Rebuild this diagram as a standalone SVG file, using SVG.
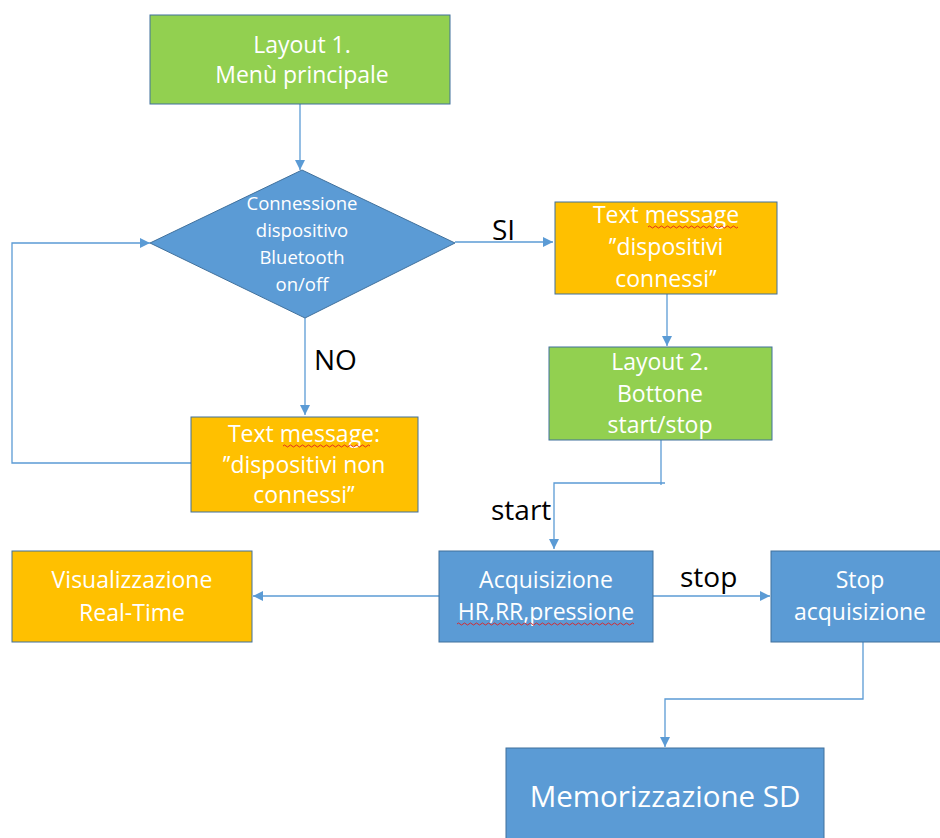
<svg xmlns="http://www.w3.org/2000/svg" width="940" height="838" viewBox="0 0 940 838">
  <style>
    .box { stroke: #41719C; stroke-width: 1; }
    .green { fill: #92D050; }
    .orange { fill: #FFC000; }
    .blue { fill: #5B9BD5; }
    .t { font-family: "Open Sans", "Liberation Sans", sans-serif; fill: #FFFFFF; text-anchor: middle; font-size: 23px; }
    .td { font-size: 18.5px; }
    .lbl { font-family: "Open Sans", "Liberation Sans", sans-serif; fill: #000000; font-size: 28px; }
    .conn { fill: none; stroke: #5B9BD5; stroke-width: 1.3; }
    .arr { marker-end: url(#head); }
    .squig { fill: none; stroke: #E02020; stroke-width: 0.9; }
  </style>
  <defs>
    <marker id="head" viewBox="0 0 10 10" refX="10" refY="5" markerWidth="10" markerHeight="10" markerUnits="userSpaceOnUse" orient="auto">
      <path d="M0,0 L10,5 L0,10 Z" fill="#5B9BD5"/>
    </marker>
  </defs>
  <rect width="940" height="838" fill="#FFFFFF"/>

  <g id="connectors">
    <path class="conn arr" d="M300,104 V170"/>
    <path class="conn arr" d="M455,242 H553"/>
    <path class="conn arr" d="M667,294 V346"/>
    <path class="conn arr" d="M305,318 V415"/>
    <path class="conn arr" d="M191,463 H12 V243 H150"/>
    <path class="conn" d="M661,440 V485"/>
    <path class="conn arr" d="M665,483 H554 V549"/>
    <path class="conn arr" d="M439,596 H253"/>
    <path class="conn arr" d="M653,596 H770"/>
    <path class="conn arr" d="M863,642 V699 H665 V747"/>
  </g>

  <g id="labels">
    <text class="lbl" x="492" y="240">SI</text>
    <text class="lbl" x="314" y="370">NO</text>
    <text class="lbl" x="491" y="520">start</text>
    <text class="lbl" x="680" y="587">stop</text>
  </g>

  <g id="layout1">
    <rect class="box green" x="150" y="15" width="300" height="89"/>
    <text class="t" x="302" y="53">Layout 1.</text>
    <text class="t" x="302" y="83">Menù principale</text>
  </g>

  <g id="decision">
    <path class="box blue" d="M302,170 L455,243 L305,318 L150,243 Z"/>
    <text class="t td" x="302" y="210">Connessione</text>
    <text class="t td" x="302" y="237">dispositivo</text>
    <text class="t td" x="302" y="264">Bluetooth</text>
    <text class="t td" x="302" y="291">on/off</text>
  </g>

  <g id="msg-connected">
    <rect class="box orange" x="555" y="202" width="222" height="92"/>
    <text class="t" x="666" y="223">Text message</text>
    <text class="t" x="666" y="255">’’dispositivi</text>
    <text class="t" x="666" y="287">connessi’’</text>
    <path class="squig" d="M648,227 q1.5,-2 3,0 t3,0 t3,0 t3,0 t3,0 t3,0 t3,0 t3,0 t3,0 t3,0 t3,0 t3,0 t3,0 t3,0 t3,0 t3,0 t3,0 t3,0 t3,0 t3,0 t3,0 t3,0 t3,0 t3,0 t3,0 t3,0 t3,0 t3,0 t3,0 t3,0"/>
  </g>

  <g id="layout2">
    <rect class="box green" x="549" y="347" width="223" height="93"/>
    <text class="t" x="660" y="370">Layout 2.</text>
    <text class="t" x="660" y="402">Bottone</text>
    <text class="t" x="660" y="433">start/stop</text>
  </g>

  <g id="msg-not-connected">
    <rect class="box orange" x="191" y="417" width="227" height="95"/>
    <text class="t" x="304" y="442">Text message:</text>
    <text class="t" x="304" y="473">’’dispositivi non</text>
    <text class="t" x="304" y="503">connessi’’</text>
    <path class="squig" d="M283,446 q1.5,-2 3,0 t3,0 t3,0 t3,0 t3,0 t3,0 t3,0 t3,0 t3,0 t3,0 t3,0 t3,0 t3,0 t3,0 t3,0 t3,0 t3,0 t3,0 t3,0 t3,0 t3,0 t3,0 t3,0 t3,0 t3,0 t3,0 t3,0 t3,0 t3,0"/>
  </g>

  <g id="visualizzazione">
    <rect class="box orange" x="12" y="551" width="240" height="91"/>
    <text class="t" x="132" y="588">Visualizzazione</text>
    <text class="t" x="132" y="621">Real-Time</text>
  </g>

  <g id="acquisizione">
    <rect class="box blue" x="439" y="551" width="214" height="91"/>
    <text class="t" x="546" y="588">Acquisizione</text>
    <text class="t" x="546" y="620">HR,RR,pressione</text>
    <path class="squig" d="M457,624 q1.5,-2 3,0 t3,0 t3,0 t3,0 t3,0 t3,0 t3,0 t3,0 t3,0 t3,0 t3,0 t3,0 t3,0 t3,0 t3,0 t3,0 t3,0 t3,0 t3,0 t3,0 t3,0 t3,0 t3,0 t3,0 t3,0 t3,0 t3,0 t3,0 t3,0 t3,0 t3,0 t3,0 t3,0 t3,0 t3,0 t3,0 t3,0 t3,0 t3,0 t3,0 t3,0 t3,0 t3,0 t3,0 t3,0 t3,0 t3,0 t3,0 t3,0 t3,0 t3,0 t3,0 t3,0 t3,0 t3,0 t3,0 t3,0 t3,0 t3,0"/>
  </g>

  <g id="stop-acquisizione">
    <rect class="box blue" x="771" y="551" width="180" height="91"/>
    <text class="t" x="860" y="588">Stop</text>
    <text class="t" x="860" y="620">acquisizione</text>
  </g>

  <g id="memorizzazione">
    <rect class="box blue" x="506" y="748" width="318" height="100"/>
    <text class="t" x="665" y="807" style="font-size:29.5px">Memorizzazione SD</text>
  </g>
</svg>
